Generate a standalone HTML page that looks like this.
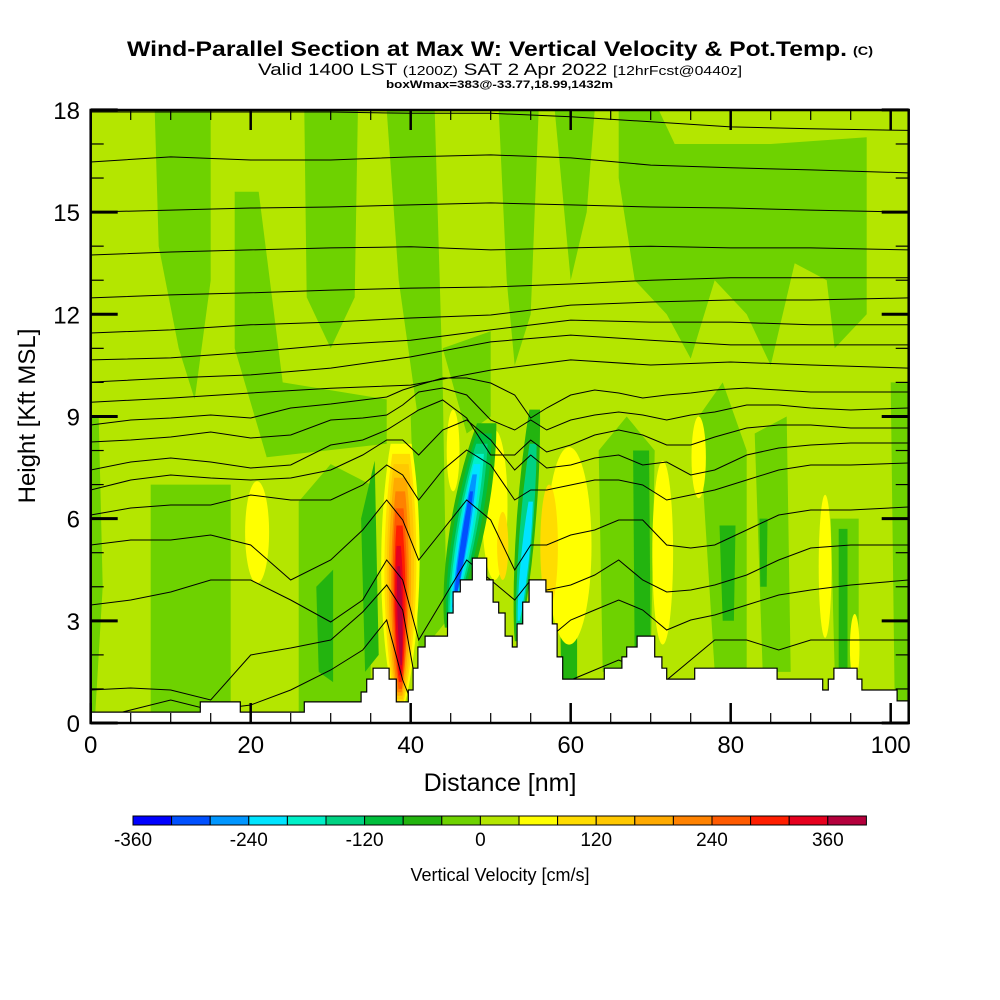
<!DOCTYPE html>
<html><head><meta charset="utf-8"><style>
body{margin:0;background:#fff;}
svg{display:block;font-family:"Liberation Sans",Arial,sans-serif;}
</style></head><body>
<svg id="chart" width="1000" height="1000" viewBox="0 0 1000 1000">
<rect x="0" y="0" width="1000" height="1000" fill="#fff"/>
<text x="127" y="56" textLength="720" lengthAdjust="spacingAndGlyphs" font-size="21" font-weight="bold">Wind-Parallel Section at Max W: Vertical Velocity &amp; Pot.Temp.</text>
<text x="853" y="55" textLength="20" lengthAdjust="spacingAndGlyphs" font-size="12" font-weight="bold">(C)</text>
<text x="258" y="75" textLength="484" lengthAdjust="spacingAndGlyphs" font-size="17">Valid 1400 LST <tspan font-size="13">(1200Z)</tspan> SAT 2 Apr 2022 <tspan font-size="13">[12hrFcst@0440z]</tspan></text>
<text x="386" y="88" textLength="227" lengthAdjust="spacingAndGlyphs" font-size="11" font-weight="bold">boxWmax=383@-33.77,18.99,1432m</text>
<defs><clipPath id="plotClip"><rect x="90.7" y="110" width="818" height="613"/></clipPath></defs>
<g id="field" clip-path="url(#plotClip)"></g>
<g id="axes"></g>
<text x="500" y="791" text-anchor="middle" font-size="25">Distance [nm]</text>
<text transform="translate(35,416) rotate(-90)" text-anchor="middle" font-size="24">Height [Kft MSL]</text>
<g id="cbar"></g>
<text x="500" y="881" text-anchor="middle" font-size="18">Vertical Velocity [cm/s]</text>
</svg>
<script>
const levelColors=["#0000ff","#0050ff","#0096ff","#00e4ff","#00f0c8","#00d282","#00be3c","#23b40f","#6ed200","#b4e600","#ffff00","#ffdc00","#ffc800","#ffaa00","#ff8200","#ff5a00","#ff1e00","#e6001e","#b4003c"];
const cbarTickLabels=["-360","-240","-120","0","120","240","360"];
const xTickLabels=[0,20,40,60,80,100];
const yTickLabels=[0,3,6,9,12,15,18];
const terrainX=[0,13.7,18.7,26.7,33.8,34.5,35.3,37.3,38.2,39.7,40.3,40.9,41.8,44.6,45.3,46.2,47.7,49.5,50.3,51.0,51.8,52.7,53.3,54.0,54.8,56.9,57.7,58.3,59.0,64.2,66.4,67.0,68.3,70.5,71.4,72.0,75.5,85.8,91.5,92.2,92.9,95.8,96.4,100.8];
const terrainH=[0.32,0.62,0.32,0.62,0.91,1.29,1.61,1.29,0.62,0.97,1.61,2.23,2.55,3.23,3.85,4.2,4.84,4.2,3.55,3.23,2.55,2.23,2.91,3.55,4.2,3.85,2.91,1.94,1.29,1.61,1.94,2.23,2.55,1.94,1.61,1.29,1.61,1.29,0.97,1.29,1.61,1.29,0.97,0.65];
const midRegions=[
[[8,18],[15,18],[15,13],[13,9.5],[11,11],[8.5,14]],
[[18,15.6],[21,15.6],[24,10],[37,9.5],[37,8.2],[22,7.8],[18,11]],
[[26.7,18],[33.4,18],[33,12.5],[30,11],[27,12.5]],
[[37,18],[43,18],[44,10],[41,8.8],[38.5,13]],
[[51,18],[56,18],[55,12],[53,10.5],[52,13]],
[[58,18],[63,18],[62,15],[60,13]],
[[66,18],[71,18],[73,17],[85,17],[97,17.2],[97,12],[93,11],[92,13],[88,13.5],[85,10.5],[82,12],[78,13],[75,10.7],[72,12],[68,13],[66,16]],
[[7.5,7],[17.5,7],[17.5,0],[7.5,0]],
[[26,6.5],[30,7.6],[35,7],[35,0],[26,0]],
[[0,9],[1,9],[1.5,4],[0.5,0],[0,0]],
[[44,11],[50,11.5],[50,9],[47,8.5]],
[[76,9],[79,10],[82,8],[82,1.5],[78,1.5]],
[[83,8.5],[87,9],[87.5,1.5],[84,1.5]],
[[92.5,6],[96,6],[96,1.5],[93,1.5]],
[[100,10],[102.2,10],[102.2,0.6],[100.5,0.6]],
[[63.5,8],[67,9],[70.5,8],[70,1.5],[64,1.5]],
[[40,9],[44,10],[44.5,3],[41,2]]
];
const darkRegions=[
[[33.8,6],[35.5,7.7],[36,2],[34.3,1.5]],
[[28.2,4],[30.3,4.5],[30.3,1.2],[28.5,1.5]],
[[58.6,5],[60.8,5],[60.8,1.3],[58.8,1.3]],
[[67.8,8],[69.8,8],[70,1.8],[68,1.8]],
[[78.6,5.8],[80.6,5.8],[80.4,3],[79,3]],
[[93.5,5.7],[94.6,5.7],[94.6,1.6],[93.5,1.6]],
[[83.6,6],[84.6,6],[84.5,4],[83.7,4]]
];
const cellX=[20.8,45.3,50.5,59.8,71.5,76,91.8,95.5,57.3,51.5];
const cellY=[5.6,8,6.4,5.2,5,7.8,4.6,2.2,5.2,5.2];
const cellRX=[1.5,0.8,1.6,2.8,1.3,0.9,0.8,0.6,1.1,0.7];
const cellRY=[1.5,1.2,2.2,2.9,2.7,1.2,2.1,1,1.8,1];
const cellLevel=[10,10,10,10,10,10,10,10,11,11];
const bandLevel=[7,6,5,4,3,2,1, 7,5,3, 10,11,12,13,14,15,16,17,18];
const bandTopX=[49.5,49.2,48.9,48.6,48.3,48,47.6, 55.5,55.3,55, 38.8,38.8,38.8,38.7,38.7,38.6,38.6,38.5,38.5];
const bandTopY=[8.8,8.5,8.2,7.9,7.6,7.3,6.8, 9.2,8.2,6.5, 8.2,7.9,7.6,7.2,6.8,6.3,5.8,5.2,4.6];
const bandBotX=[44.8,44.9,45,45.1,45.2,45.3,45.5, 53.3,53.4,53.5, 38.6,38.6,38.6,38.6,38.6,38.7,38.7,38.7,38.8];
const bandBotY=[2.8,3,3.1,3.2,3.3,3.4,3.6, 2.4,2.6,3, 0.5,0.6,0.7,0.8,0.9,1.0,1.2,1.4,1.7];
const bandHW=[2.2,1.7,1.3,1.0,0.75,0.5,0.35, 1.2,0.8,0.5, 2.4,2.0,1.7,1.4,1.1,0.9,0.7,0.5,0.3];
const upperStations=[0,10,20,30,40,50,60,70,80,90,102.2];
const upperLines=[
[17.94,17.94,17.94,17.94,17.9,17.9,17.8,17.65,17.5,17.45,17.4],
[16.47,16.62,16.53,16.53,16.62,16.68,16.59,16.38,16.3,16.24,16.15],
[15.0,15.06,15.12,15.15,15.21,15.27,15.21,15.15,15.12,15.06,15.0],
[13.74,13.83,13.89,13.95,13.98,13.89,13.95,14.0,13.95,13.95,13.89],
[12.48,12.57,12.63,12.71,12.77,12.8,12.89,13.0,13.07,13.07,13.07],
[11.45,11.54,11.69,11.77,11.89,11.98,12.27,12.36,12.42,12.42,12.48],
[10.66,10.72,10.89,11.1,11.24,11.54,11.83,11.77,11.77,11.69,11.69],
[10.01,10.13,10.22,10.42,10.75,11.19,11.39,11.24,11.1,11.1,11.1],
[9.42,9.54,9.69,9.83,9.92,10.36,10.66,10.51,10.6,10.51,10.42]
];
const lowerStations=[0,5,10,15,20,25,30,34,37,39,41,44,47,50,53,55,57,60,63,66,69,72,75,78,82,86,90,95,102.2];
const lowerLinesPx=[
[425,420,418,415,418,408,404,400,397,390,385,378,378,383,395,418,408,395,390,393,398,395,393,390,388,390,392,392,392],
[442,440,437,432,438,435,420,418,415,405,392,388,395,420,430,420,430,420,415,412,415,420,415,412,405,405,408,410,408],
[470,462,458,462,468,465,445,440,430,420,410,400,418,455,455,440,452,445,435,430,435,445,445,437,428,425,425,428,428],
[490,480,475,478,480,478,470,455,440,440,455,430,420,440,470,455,468,465,458,455,465,462,475,470,455,448,445,443,443],
[515,508,505,505,495,500,500,485,465,475,500,470,450,465,500,490,490,485,480,480,485,500,495,490,480,470,465,465,463],
[545,540,540,535,545,580,560,530,500,520,560,530,500,520,570,545,545,535,530,520,520,545,548,545,530,515,510,510,507],
[605,600,592,580,580,600,622,600,560,580,640,600,560,580,600,580,590,585,575,560,580,592,590,585,575,560,548,545,545],
[690,688,690,700,655,648,640,612,585,610,700,700,700,700,700,650,640,620,610,600,610,630,620,615,605,595,590,585,580],
[720,710,700,710,705,690,670,650,620,680,720,720,720,720,720,700,690,680,670,660,670,680,660,640,640,650,640,640,640]
];
const lowerLines=lowerLinesPx.map(r=>r.map(v=>(723-v)/34.06));

const NS='http://www.w3.org/2000/svg';
const xs=nm=>90.7+nm*8;
const ys=k=>723-k*34.06;
const field=document.getElementById('field');
const axes=document.getElementById('axes');
const cbar=document.getElementById('cbar');
function mk(tag,attrs,parent){const e=document.createElementNS(NS,tag);for(const k in attrs)e.setAttribute(k,attrs[k]);parent.appendChild(e);return e;}

let bg=mk('rect',{x:90.7,y:110,width:818,height:613,fill:levelColors[9]},field);



function poly(pts,color,name){
  const p=mk('polygon',{points:pts.map(q=>xs(q[0]).toFixed(1)+','+ys(q[1]).toFixed(1)).join(' '),fill:color},field);
  
  
}
midRegions.forEach(r=>poly(r,levelColors[8],'weak-downdraft-region'));
darkRegions.forEach(r=>poly(r,levelColors[7],'downdraft-region'));
for(let i=0;i<cellX.length;i++){
  const e=mk('ellipse',{cx:xs(cellX[i]),cy:ys(cellY[i]),rx:cellRX[i]*8,ry:cellRY[i]*34.06,fill:levelColors[cellLevel[i]]},field);
  
  
}
for(let i=0;i<bandLevel.length;i++){
  const L=[],R=[];const n=24;
  for(let j=0;j<=n;j++){const t=j/n;
    const cx=bandTopX[i]+(bandBotX[i]-bandTopX[i])*t;
    const cy=bandTopY[i]+(bandBotY[i]-bandTopY[i])*t;
    const w=bandHW[i]*Math.pow(Math.sin(Math.PI*Math.min(1,t*0.85+0.12)),0.6);
    L.push([cx-w,cy]);R.unshift([cx+w,cy]);}
  poly(L.concat(R),levelColors[bandLevel[i]],i<10?'downdraft-band':'updraft-plume');
}
function line(stations,vals,name){
  const p=mk('polyline',{points:stations.map((s,j)=>xs(s).toFixed(1)+','+ys(vals[j]).toFixed(1)).join(' '),fill:'none',stroke:'#000','stroke-width':1},field);
  
  
}
upperLines.forEach(v=>line(upperStations,v,'theta-contour'));
lowerLines.forEach(v=>line(lowerStations,v,'theta-contour'));
let tp=[[0,0]];
for(let i=0;i<terrainX.length;i++){const x1=i+1<terrainX.length?terrainX[i+1]:102.2;tp.push([terrainX[i],terrainH[i]]);tp.push([x1,terrainH[i]]);}
tp.push([102.2,0]);
const terr=mk('polygon',{points:tp.map(q=>xs(q[0]).toFixed(1)+','+ys(q[1]).toFixed(1)).join(' '),fill:'#fff',stroke:'#000','stroke-width':1.2},field);



const fr=mk('rect',{x:90.7,y:110,width:818,height:613,fill:'none',stroke:'#000','stroke-width':2.5},axes);


for(let nm=0;nm<=100;nm+=5){const maj=nm%20===0;const L=maj?20:10;const x=xs(nm);
  mk('line',{x1:x,y1:723,x2:x,y2:723-L,stroke:'#000','stroke-width':maj?2.5:1.2},axes);
  mk('line',{x1:x,y1:110,x2:x,y2:110+L,stroke:'#000','stroke-width':maj?2.5:1.2},axes);}
for(let k=0;k<=18;k++){const maj=k%3===0;const L=maj?27:13;const y=ys(k);
  mk('line',{x1:90.7,y1:y,x2:90.7+L,y2:y,stroke:'#000','stroke-width':maj?3:1.2},axes);
  mk('line',{x1:908.7,y1:y,x2:908.7-L,y2:y,stroke:'#000','stroke-width':maj?3:1.2},axes);}
xTickLabels.forEach(v=>{const t=mk('text',{x:xs(v),y:753,'text-anchor':'middle','font-size':24},axes);t.textContent=v;
  
  });
yTickLabels.forEach(v=>{const t=mk('text',{x:80,y:ys(v)+9,'text-anchor':'end','font-size':24},axes);t.textContent=v;
  
  });
const cbX0=133,cbW=38.6;
levelColors.forEach((c,i)=>{const r=mk('rect',{x:cbX0+i*cbW,y:816,width:cbW,height:9,fill:c,stroke:'#000','stroke-width':1},cbar);
  
  });
cbarTickLabels.forEach((s,i)=>{const t=mk('text',{x:cbX0+i*3*cbW,y:846,'text-anchor':'middle','font-size':19},cbar);t.textContent=s;
  
  });
</script>
</body></html>
